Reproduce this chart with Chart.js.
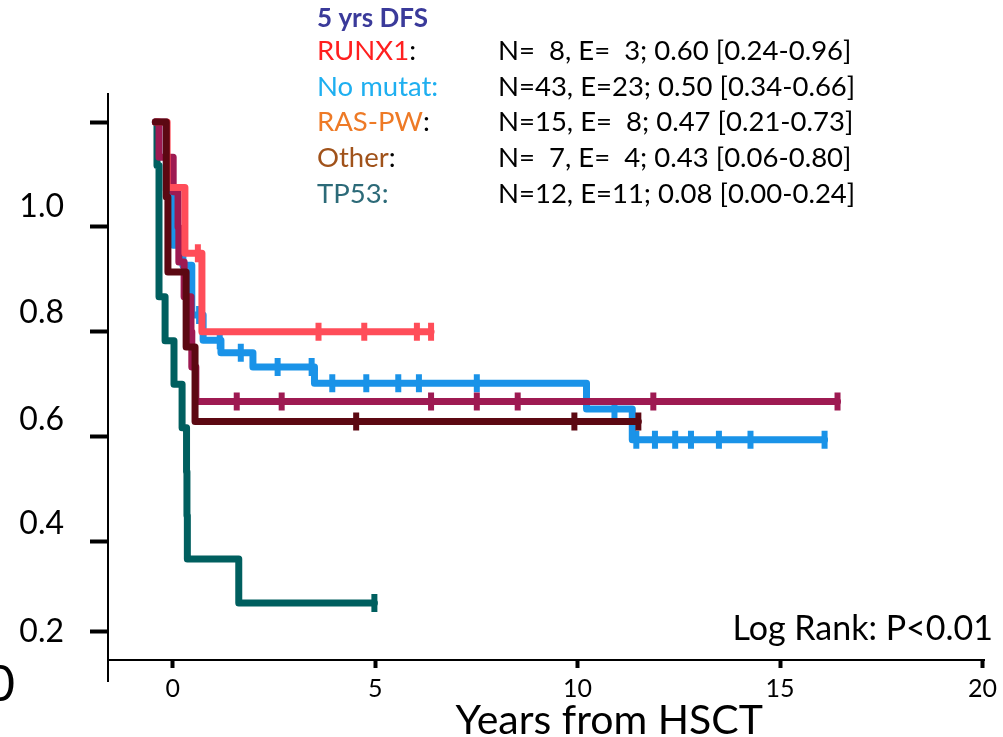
<!DOCTYPE html>
<html>
<head>
<meta charset="utf-8">
<script src="https://cdn.jsdelivr.net/npm/chart.js@4.4.1/dist/chart.umd.min.js"></script>
<style>
    html, body { margin: 0; padding: 0; background: #fff; }
    .km-container { width: 1003px; height: 737px; position: relative; }
</style>
</head>
<body>
<div class="km-container"><canvas id="kmChart"></canvas></div>
<script>
// years from HSCT / DFS probability
const startYear = -0.43;

const runx1Times = [-0.14, 0.30, 0.72];
const runx1Surv = [0.875, 0.75, 0.60];
const runx1Censored = [0.62, 3.6, 4.73, 6.03, 6.38];

const noMutTimes = [-0.16, 0.01, 0.25, 0.47, 0.75, 1.19, 1.98, 3.50, 10.22, 11.35];
const noMutSurv = [0.870, 0.765, 0.727, 0.632, 0.584, 0.560, 0.533, 0.502, 0.453, 0.394];
const noMutCensored = [0.65, 1.16, 1.68, 2.59, 3.43, 3.94, 4.78, 5.57, 6.08, 7.51, 10.91,
    11.45, 11.91, 12.41, 12.80, 13.49, 14.27, 16.10];

const rasTimes = [-0.34, 0.01, 0.13, 0.15, 0.28, 0.45, 0.47, 0.57];
const rasSurv = [0.933, 0.867, 0.80, 0.733, 0.667, 0.60, 0.533, 0.467];
const rasCensored = [1.58, 2.69, 6.38, 7.51, 8.52, 11.87, 16.42];

const otherTimes = [-0.16, -0.12, 0.33, 0.55];
const otherSurv = [0.857, 0.714, 0.571, 0.429];
const otherCensored = [4.53, 9.92, 11.5];

const tp53Times = [-0.39, -0.34, -0.34, -0.34, -0.19, 0.03, 0.23, 0.34, 0.35, 0.36, 1.63];
const tp53Surv = [0.917, 0.833, 0.75, 0.667, 0.583, 0.5, 0.417, 0.333, 0.25, 0.167, 0.083];
const tp53Censored = [4.98];

const xTickValues = [0, 5, 10, 15, 20];
const yTickValues = [1.0, 0.8, 0.6, 0.4, 0.2, 0.028];
// the printed labels sit off the tick marks in the original
const yLabelValues = [0.838, 0.636, 0.432, 0.234, 0.028];
const yLabelText = ["1.0", "0.8", "0.6", "0.4", "0.2"];
// a cut-off "0" below the axis, at the left edge
const strayLabelText = "0";
const strayLabelValue = -0.074;

const headerText = "5 yrs DFS";
const groupNames = ["RUNX1", "No mutat:", "RAS-PW", "Other", "TP53:"];
const groupColon = [true, false, true, true, false];
const groupNameColors = ["#ff1f1f", "#1eaff0", "#ee7a26", "#a0521a", "#2c6a78"];
const groupStats = [
    "N=  8, E=  3; 0.60 [0.24-0.96]",
    "N=43, E=23; 0.50 [0.34-0.66]",
    "N=15, E=  8; 0.47 [0.21-0.73]",
    "N=  7, E=  4; 0.43 [0.06-0.80]",
    "N=12, E=11; 0.08 [0.00-0.24]"
];
const logRankText = "Log Rank: P<0.01";

const FONT = "Lato, 'Open Sans', sans-serif";

const levelAt = (times, surv, t) => {
    let s = 1;
    times.forEach((tt, i) => { if (tt <= t) s = surv[i]; });
    return s;
};

const curvePoints = (times, surv, censored) => {
    const pts = [{ x: startYear, y: 1 }];
    times.forEach((t, i) => pts.push({ x: t, y: surv[i] }));
    const lastT = Math.max(...censored);
    pts.push({ x: lastT, y: surv[surv.length - 1] });
    return pts;
};

const censorPoints = (times, surv, censored) =>
    censored.map(t => ({ x: t, y: levelAt(times, surv, t) }));

const makeSeries = (label, color, times, surv, censored, order) => [
    {
        label: label,
        data: curvePoints(times, surv, censored),
        borderColor: color,
        borderWidth: 7,
        stepped: true,
        pointRadius: 0,
        borderJoinStyle: "round",
        borderCapStyle: "round",
        fill: false,
        order: order,
    },
    {
        label: label + " censored",
        data: censorPoints(times, surv, censored),
        showLine: false,
        pointStyle: "line",
        rotation: 90,
        pointRadius: 9,
        pointBorderWidth: 6,
        pointBorderColor: color,
        pointBackgroundColor: color,
        order: order,
    },
];

const datasets = [
    ...makeSeries("Other", "#5c0812", otherTimes, otherSurv, otherCensored, 0),
    ...makeSeries("RUNX1", "#ff4d59", runx1Times, runx1Surv, runx1Censored, 1),
    ...makeSeries("RAS-PW", "#9e1a52", rasTimes, rasSurv, rasCensored, 2),
    ...makeSeries("TP53", "#005f5f", tp53Times, tp53Surv, tp53Censored, 3),
    ...makeSeries("No mutat", "#1a93e8", noMutTimes, noMutSurv, noMutCensored, 4),
];

const textPlugin = {
    id: "kmText",
    afterDraw(chart) {
        const ctx = chart.ctx;
        const area = chart.chartArea;
        ctx.save();

        // y axis line runs a little below the x axis
        const yAxis = chart.scales.y;
        ctx.strokeStyle = "#000";
        ctx.lineWidth = 2;
        ctx.beginPath();
        ctx.moveTo(yAxis.right, area.bottom);
        ctx.lineTo(yAxis.right, area.bottom + 22);
        ctx.stroke();

        ctx.fillStyle = "#000";
        ctx.font = "50px " + FONT;
        ctx.textAlign = "right";
        ctx.textBaseline = "middle";
        ctx.fillText(strayLabelText, 15, chart.scales.yLab.getPixelForValue(strayLabelValue));

        ctx.textBaseline = "alphabetic";
        ctx.textAlign = "left";
        ctx.font = "bold 26px " + FONT;
        ctx.fillStyle = "#3a3a9a";
        ctx.fillText(headerText, 317, 27);

        ctx.font = "27.5px " + FONT;
        groupNames.forEach((name, i) => {
            const y = 60 + i * 35.7;
            ctx.fillStyle = groupNameColors[i];
            ctx.fillText(name, 317, y);
            if (groupColon[i]) {
                ctx.fillStyle = "#000";
                ctx.fillText(":", 317 + ctx.measureText(name).width, y);
            }
            ctx.fillStyle = "#000";
            ctx.fillText(groupStats[i], 498, y);
        });

        ctx.font = "34px " + FONT;
        ctx.textAlign = "right";
        ctx.fillStyle = "#000";
        ctx.fillText(logRankText, 993, 640);
        ctx.restore();
    },
};

new Chart(document.getElementById("kmChart"), {
    type: "line",
    data: { datasets: datasets },
    options: {
        responsive: true,
        maintainAspectRatio: false,
        animation: false,
        layout: { padding: { top: 94, right: 15, left: 0, bottom: 0 } },
        plugins: {
            legend: { display: false },
            tooltip: { enabled: false },
        },
        scales: {
            x: {
                type: "linear",
                min: -1.6,
                max: 20.05,
                afterBuildTicks: (axis) => { axis.ticks = xTickValues.map(v => ({ value: v })); },
                afterFit: (axis) => { axis.height = 77; },
                grid: { drawOnChartArea: false, drawTicks: true, tickLength: 8, tickWidth: 4, tickColor: "#000" },
                border: { display: true, color: "#000", width: 2 },
                ticks: {
                    autoSkip: false,
                    maxRotation: 0,
                    padding: 6,
                    color: "#000",
                    font: { family: FONT, size: 25 },
                    callback: (v) => String(v),
                },
                title: {
                    display: true,
                    text: " ".repeat(12) + "Years from HSCT",
                    color: "#000",
                    font: { family: FONT, size: 41 },
                    padding: { top: 0, bottom: -8 },
                },
            },
            y: {
                type: "linear",
                position: "left",
                min: -0.0257,
                max: 1.0534,
                afterBuildTicks: (axis) => { axis.ticks = yTickValues.map(v => ({ value: v })); },
                afterFit: (axis) => { axis.width = 36; },
                grid: { drawOnChartArea: false, drawTicks: true, tickLength: 18, tickWidth: 4, tickColor: "#000" },
                border: { display: true, color: "#000", width: 2 },
                ticks: { display: false },
            },
            yLab: {
                type: "linear",
                position: "left",
                min: -0.0257,
                max: 1.0534,
                afterBuildTicks: (axis) => { axis.ticks = yLabelValues.map(v => ({ value: v })); },
                afterFit: (axis) => { axis.width = 72; },
                grid: { display: false, drawTicks: false },
                border: { display: false },
                ticks: {
                    autoSkip: false,
                    padding: 8,
                    color: "#000",
                    font: { family: FONT, size: 32 },
                    callback: (v, i) => yLabelText[i],
                },
            },
        },
    },
    plugins: [textPlugin],
});
</script>
</body>
</html>
